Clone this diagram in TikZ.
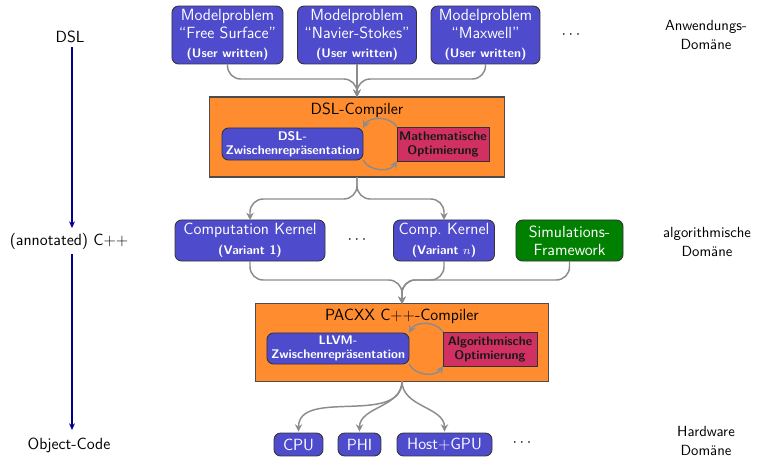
\documentclass[tikz,border=0pt]{standalone}
\usetikzlibrary{arrows.meta}

\definecolor{boxblue}{RGB}{78,76,204}
\definecolor{comporange}{RGB}{255,141,48}
\definecolor{optred}{RGB}{208,48,98}
\definecolor{simgreen}{RGB}{0,128,0}
\definecolor{conngray}{RGB}{140,140,140}
\definecolor{flownavy}{RGB}{0,0,140}

\newcommand\smallbold{\sffamily\bfseries\fontsize{8.5}{9.5}\selectfont}

\begin{document}
\begin{tikzpicture}[x=0.68pt,y=0.68pt,
  font=\sffamily\fontsize{11}{12}\selectfont,
  every node/.style={inner sep=0pt, outer sep=0pt},
  bluebox/.style={draw=black!80, line width=0.6pt, rounded corners=4.5pt,
                  fill=boxblue, text=white, align=center},
  irbox/.style={bluebox, font=\smallbold},
  optbox/.style={draw=black!80, line width=0.6pt, fill=optred,
                 text=black!90, align=center, font=\smallbold},
  compbox/.style={draw=black!70, line width=0.7pt, fill=comporange},
  simbox/.style={bluebox, fill=simgreen},
  conn/.style={draw=conngray, line width=1pt,
               -{Stealth[length=5pt,width=5pt]}},
  merge/.style={conn, rounded corners=9pt},
  flow/.style={draw=flownavy, line width=0.9pt,
               -{Stealth[length=4.5pt,width=4pt]}},
  domlabel/.style={align=center, font=\sffamily\fontsize{10}{13}\selectfont},
  lvllabel/.style={font=\sffamily\fontsize{11}{12}\selectfont},
  dotlabel/.style={font=\sffamily\fontsize{11}{12}\selectfont}]

\useasboundingbox (0,0) rectangle (762,-457);

% --- application level: model problems
\node[bluebox, minimum width=75.5pt, minimum height=39.4pt] (m1) at (227.5,-35)
  {Modelproblem\\“Free Surface”\\[1pt]{\smallbold (User written)}};
\node[bluebox, minimum width=80.9pt, minimum height=39.4pt] (m2) at (357,-35)
  {Modelproblem\\“Navier-Stokes”\\[1pt]{\smallbold (User written)}};
\node[bluebox, minimum width=74.1pt, minimum height=39.4pt] (m3) at (485.5,-35)
  {Modelproblem\\“Maxwell”\\[1pt]{\smallbold (User written)}};
\node[dotlabel] (mdots) at (571,-35) {$\cdots$};

% --- DSL compiler
\node[compbox, minimum width=200pt, minimum height=54.4pt] (dslc) at (357,-137) {};
\node (dsltitle) at (357,-110) {DSL-Compiler};
\node[irbox, minimum width=95.9pt, minimum height=21.8pt] (dslir) at (292.5,-144)
  {DSL-\\Zwischenrepräsentation};
\node[optbox, minimum width=62.6pt, minimum height=23.1pt] (mathopt) at (443,-144)
  {Mathematische\\Optimierung};
\draw[conn] (mathopt.north west) to[bend right=60] (dslir.north east);
\draw[conn] (dslir.south east) to[bend right=60] (mathopt.south west);

% --- algorithmic level: kernels and framework
\node[bluebox, minimum width=102pt, minimum height=27.9pt] (ck1) at (250,-240.5)
  {Computation Kernel\\[1.5pt]{\smallbold (Variant 1)}};
\node[dotlabel] (kdots) at (357,-240) {$\cdots$};
\node[bluebox, minimum width=68.7pt, minimum height=27.9pt] (ckn) at (444,-240.5)
  {Comp.\ Kernel\\[1.5pt]{\smallbold (Variant $n$)}};
\node[simbox, minimum width=72.8pt, minimum height=27.9pt] (sim) at (569.5,-240.5)
  {Simulations-\\Framework};

% --- PACXX compiler
\node[compbox, minimum width=198.6pt, minimum height=52.4pt] (pacxx) at (402,-342.5) {};
\node (pacxxtitle) at (402,-316) {PACXX C++-Compiler};
\node[irbox, minimum width=96.6pt, minimum height=21.1pt] (llvm) at (338,-348.5)
  {LLVM-\\Zwischenrepräsentation};
\node[optbox, minimum width=63.9pt, minimum height=23.1pt] (algopt) at (490,-349)
  {Algorithmische\\Optimierung};
\draw[conn] (algopt.north west) to[bend right=60] (llvm.north east);
\draw[conn] (llvm.south east) to[bend right=60] (algopt.south west);

% --- hardware level
\node[bluebox, minimum width=33.3pt, minimum height=15.6pt] (cpu) at (298.5,-444.5) {CPU};
\node[bluebox, minimum width=29.2pt, minimum height=15.6pt] (phi) at (359.5,-444.5) {PHI};
\node[bluebox, minimum width=64.6pt, minimum height=15.6pt] (hostgpu) at (444.5,-444.5) {Host+GPU};
\node[dotlabel] (hdots) at (522,-443) {$\cdots$};

% --- junctions of the merging connectors
\coordinate (jtop) at (357,-79);
\coordinate (jmid) at (357,-199);
\coordinate (jlow) at (402,-280);

\draw[merge] (m1.south) |- (jtop) -- (dslc.north);
\draw[merge] (m3.south) |- (jtop) -- (dslc.north);
\draw[conn] (m2.south) -- (dslc.north);

\draw[merge] (dslc.south) -- (jmid) -| (ck1.north);
\draw[merge] (dslc.south) -- (jmid) -| (ckn.north);

\draw[merge] (ck1.south) |- (jlow) -- (pacxx.north);
\draw[merge] (ckn.south) |- (jlow) -- (pacxx.north);
\draw[merge] (sim.south) |- (jlow) -- (pacxx.north);

\draw[conn, shorten >=1pt] (pacxx.south) to[out=-90,in=90] (cpu.north);
\draw[conn, shorten >=1pt] (pacxx.south) to[out=-90,in=90] (phi.north);
\draw[conn, shorten >=1pt] (pacxx.south) to[out=-90,in=90] (hostgpu.north);

% --- abstraction levels on the left
\node[lvllabel] (ldsl) at (70,-37) {DSL};
\node[lvllabel] (lcpp) at (69,-241) {(annotated) C++};
\node[lvllabel] (lobj) at (69,-445) {Object-Code};
\coordinate (f1) at (72,-47);
\coordinate (f2) at (72,-228);
\coordinate (f3) at (72,-254);
\coordinate (f4) at (72,-430);
\draw[flow] (f1) -- (f2);
\draw[flow] (f3) -- (f4);

% --- domains on the right
\node[domlabel] (dapp) at (706,-35) {Anwendungs-\\Domäne};
\node[domlabel] (dalg) at (707,-242) {algorithmische\\Domäne};
\node[domlabel, font=\sffamily\fontsize{10}{12.5}\selectfont] (dhw) at (706,-441)
  {Hardware\\Domäne};

\end{tikzpicture}
\end{document}
